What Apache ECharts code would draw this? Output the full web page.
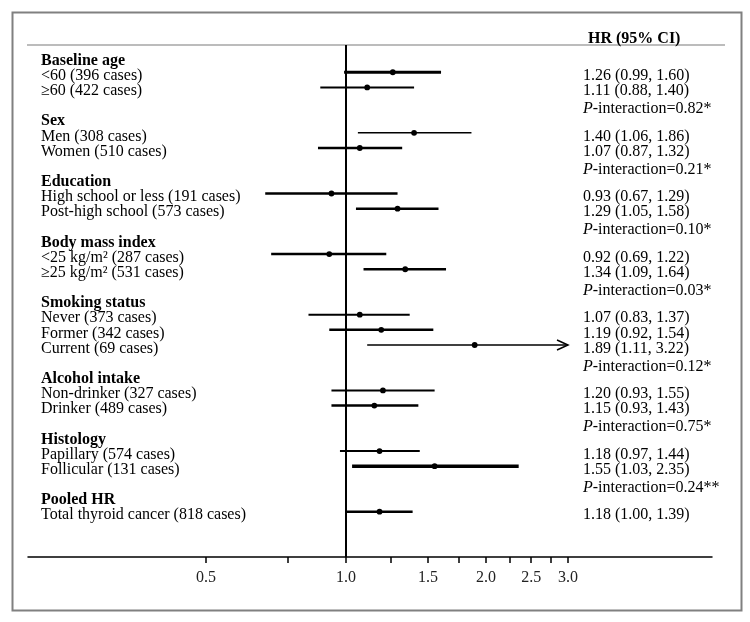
<!DOCTYPE html>
<html>
<head>
<meta charset="utf-8">
<script src="https://cdn.jsdelivr.net/npm/echarts@6/dist/echarts.min.js"></script>
<style>html,body{margin:0;padding:0;background:#fff;}#chart{width:750px;height:622px;}</style>
</head>
<body>
<div id="chart"></div>
<script>
// ---------- data ----------
const groupNames = ['Baseline age', 'Sex', 'Education', 'Body mass index', 'Smoking status', 'Alcohol intake', 'Histology', 'Pooled HR'];
const itemLabels = ['<60 (396 cases)', '≥60 (422 cases)', 'Men (308 cases)', 'Women (510 cases)',
  'High school or less (191 cases)', 'Post-high school (573 cases)',
  '<25 kg/m² (287 cases)', '≥25 kg/m² (531 cases)',
  'Never (373 cases)', 'Former (342 cases)', 'Current (69 cases)',
  'Non-drinker (327 cases)', 'Drinker (489 cases)',
  'Papillary (574 cases)', 'Follicular (131 cases)', 'Total thyroid cancer (818 cases)'];
const itemGroup = [0, 0, 1, 1, 2, 2, 3, 3, 4, 4, 4, 5, 5, 6, 6, 7];
const hrValues = [1.26, 1.11, 1.40, 1.07, 0.93, 1.29, 0.92, 1.34, 1.07, 1.19, 1.89, 1.20, 1.15, 1.18, 1.55, 1.18];
const ciLower  = [0.99, 0.88, 1.06, 0.87, 0.67, 1.05, 0.69, 1.09, 0.83, 0.92, 1.11, 0.93, 0.93, 0.97, 1.03, 1.00];
const ciUpper  = [1.60, 1.40, 1.86, 1.32, 1.29, 1.58, 1.22, 1.64, 1.37, 1.54, 3.22, 1.55, 1.43, 1.44, 2.35, 1.39];
const pInteraction = ['0.82*', '0.21*', '0.10*', '0.03*', '0.12*', '0.75*', '0.24**', null];
const xTickValues = [0.5, 0.75, 1, 1.25, 1.5, 1.75, 2, 2.25, 2.5, 2.75, 3];
const xLabelValues = [0.5, 1.0, 1.5, 2.0, 2.5, 3.0];
const rightHeader = 'HR (95% CI)';

// ---------- styles / layout constants ----------
const ciLineWidths = [3, 2, 1.5, 2.5, 2.5, 2.5, 2.5, 2.5, 2, 2.5, 1.5, 2, 2.5, 2, 3.5, 2.5];
const CI_OFFSET_PX = -3.5;   // whiskers sit slightly above the text centre
const P_ROW_SHIFT = 0.18;    // P-interaction lines sit a little lower than a full row step
const FONT = '"Liberation Serif", "DejaVu Serif", serif';

// ---------- build rows ----------
const leftText = [], rightText = [], itemRow = [], pRows = new Set();
groupNames.forEach((g, gi) => {
  leftText.push('{b|' + g + '}');
  rightText.push('');
  itemGroup.forEach((ig, k) => {
    if (ig !== gi) return;
    itemRow[k] = leftText.length;
    leftText.push('{n|' + itemLabels[k] + '}');
    rightText.push('{n|' + hrValues[k].toFixed(2) + ' (' + ciLower[k].toFixed(2) + ', ' + ciUpper[k].toFixed(2) + ')}');
  });
  if (pInteraction[gi]) {
    pRows.add(leftText.length);
    leftText.push('');
    rightText.push('{i|P}{n|-interaction=' + pInteraction[gi] + '}');
  }
});
const rowPos = leftText.map((_, i) => pRows.has(i) ? i + P_ROW_SHIFT : i);
// padded with an empty slot at each end so the axis' min/max-label logic never hides a real row
const rowValues = [-0.9].concat(rowPos, [32.5]);
const L = Math.log10;
const capLog = L(xTickValues[xTickValues.length - 1]);

const ciData = hrValues.map((h, k) => [L(ciLower[k]), L(ciUpper[k]), L(h), itemRow[k]]);

const richStyles = {
  b: { fontFamily: FONT, fontSize: 16, lineHeight: 13, fontWeight: 'bold', color: '#000' },
  n: { fontFamily: FONT, fontSize: 16, lineHeight: 13, color: '#000' },
  i: { fontFamily: FONT, fontSize: 16, lineHeight: 13, fontStyle: 'italic', color: '#000' }
};
const rowLabel = (arr, v) => {
  const i = Math.round(v);
  return (i >= 0 && i < arr.length && Math.abs(rowPos[i] - v) < 1e-6) ? arr[i] : '';
};

function renderItem(params, api) {
  const k = params.dataIndex;
  const y = api.value(3);
  const lo = api.coord([api.value(0), y]);
  const capped = api.value(1) > capLog;
  const hi = api.coord([capped ? capLog : api.value(1), y]);
  const c = api.coord([api.value(2), y]);
  const yy = lo[1] + CI_OFFSET_PX;
  const children = [
    { type: 'line', shape: { x1: lo[0], y1: yy, x2: hi[0], y2: yy }, style: { stroke: '#000', lineWidth: ciLineWidths[k] } },
    { type: 'circle', shape: { cx: c[0], cy: yy, r: 2.9 }, style: { fill: '#000' } }
  ];
  if (capped) {
    children.push({ type: 'polyline', shape: { points: [[hi[0] - 11, yy - 5], [hi[0], yy], [hi[0] - 11, yy + 5]] },
      style: { stroke: '#000', lineWidth: 1.5, fill: null } });
  }
  return { type: 'group', children };
}

const chart = echarts.init(document.getElementById('chart'), null, { renderer: 'canvas' });
chart.setOption({
  animation: false,
  backgroundColor: '#fff',
  title: {
    text: rightHeader, left: 583, top: 26,
    textStyle: { fontFamily: FONT, fontSize: 16, fontWeight: 'bold', color: '#000' }
  },
  graphic: [
    { type: 'rect', left: 10, top: 10, shape: { width: 729, height: 598 }, style: { fill: 'none', stroke: '#808080', lineWidth: 2 }, silent: true },
    { type: 'line', shape: { x1: 27, y1: 45, x2: 725, y2: 45 }, style: { stroke: '#a6a6a6', lineWidth: 1.5 }, silent: true }
  ],
  grid: { left: 28, right: 750 - 712, top: 45, bottom: 622 - 557, containLabel: false },
  xAxis: {
    type: 'value',
    position: 'bottom',
    min: L(0.207), max: L(6.12),
    axisLine: { show: true, onZero: false, lineStyle: { color: '#000', width: 1.5 } },
    axisTick: { show: true, customValues: xTickValues.map(L), length: 6, lineStyle: { color: '#000', width: 1.5 } },
    axisLabel: {
      customValues: xLabelValues.map(L), margin: 13,
      formatter: v => Math.pow(10, v).toFixed(1),
      fontFamily: FONT, fontSize: 16, color: '#222'
    },
    splitLine: { show: false }
  },
  yAxis: [
    {
      type: 'value', position: 'left', inverse: true, min: -1.03, max: 32.76,
      axisLine: { show: false, onZero: false }, axisTick: { show: false }, splitLine: { show: false },
      axisLabel: {
        inside: true, align: 'left', margin: 13, customValues: rowValues,
        hideOverlap: false,
        formatter: v => rowLabel(leftText, v), rich: richStyles
      }
    },
    {
      type: 'value', position: 'right', inverse: true, min: -1.03, max: 32.76,
      axisLine: { show: false, onZero: false }, axisTick: { show: false }, splitLine: { show: false },
      axisLabel: {
        inside: true, align: 'left', margin: 712 - 583, customValues: rowValues,
        hideOverlap: false,
        formatter: v => rowLabel(rightText, v), rich: richStyles
      }
    }
  ],
  series: [{
    type: 'custom',
    renderItem: renderItem,
    data: ciData,
    encode: { x: [0, 1, 2], y: 3 },
    clip: false,
    silent: true,
    markLine: {
      silent: true, symbol: 'none', label: { show: false },
      lineStyle: { color: '#000', width: 2, type: 'solid' },
      data: [{ xAxis: 0 }]
    }
  }]
});
</script>
</body>
</html>
